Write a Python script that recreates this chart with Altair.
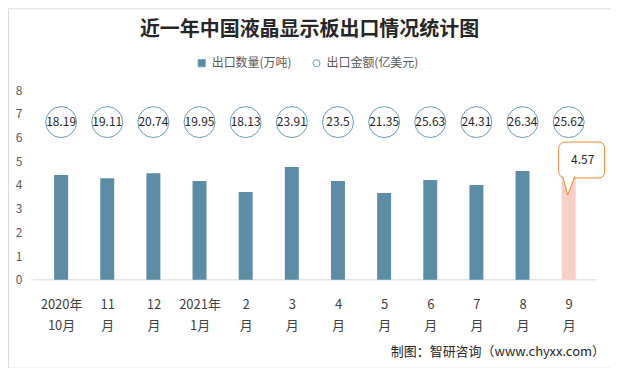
import altair as alt
import pandas as pd

# ---- data ----
label_top = ["2020年", "11", "12", "2021年", "2", "3", "4", "5", "6", "7", "8", "9"]
label_bottom = ["10月", "月", "月", "1月", "月", "月", "月", "月", "月", "月", "月", "月"]
quantity = [4.42, 4.29, 4.50, 4.17, 3.70, 4.76, 4.17, 3.66, 4.21, 4.00, 4.59, 4.57]
amount = [18.19, 19.11, 20.74, 19.95, 18.13, 23.91, 23.5, 21.35, 25.63, 24.31, 26.34, 25.62]
series_names = ["出口数量(万吨)", "出口金额(亿美元)"]
title_text = ["近一年中国液晶显示板出口情况统计图"]
footer_text = ["制图：智研咨询（www.chyxx.com）"]

n = len(quantity)
df = pd.DataFrame({
    "i": list(range(n)),
    "quantity": quantity,
    "amount": amount,
    "qs": [series_names[0]] * n,
    "as": [series_names[1]] * n,
})
last = df.iloc[[n - 1]]

FONT = "Noto Sans CJK SC"
BLUE = "#5b8ea6"
CIRCLE = "#6a9bb5"
PINK = "#f8d0c6"
ORANGE = "#ec8a2e"
W, H = 604, 360

xscale = alt.Scale(domain=[-49 / 47, (W - 49) / 47], nice=False, zero=False)
yscale = alt.Scale(domain=[-(H - 272) / 23.75, 272 / 23.75], nice=False, zero=False)

label_arr = "[" + ",".join(
    "['%s','%s']" % (a, b) for a, b in zip(label_top, label_bottom)
) + "]"

xaxis = alt.Axis(
    values=list(range(n)), labelExpr=label_arr + "[datum.value]",
    domain=False, ticks=False, grid=False, title=None, orient="bottom",
    offset=-78, labelPadding=9, labelFontSize=13, labelLineHeight=21,
    labelColor="#404040", labelFont=FONT, labelFlush=False, labelOverlap=False,
)
yaxis = alt.Axis(
    values=list(range(9)), domain=False, ticks=False, grid=False, title=None,
    orient="left", offset=-14, labelPadding=0, labelFontSize=12,
    labelColor="#595959", labelFont=FONT, labelFlush=False, labelOverlap=False,
)

fill_scale = alt.Scale(domain=series_names, range=[BLUE, "#ffffff"])
shape_scale = alt.Scale(domain=series_names, range=["square", "circle"])
leg = alt.Legend(
    title=None, orient="none", legendX=188, legendY=49, direction="horizontal",
    labelFontSize=12, labelColor="#595959", labelFont=FONT, symbolSize=50,
    symbolStrokeColor=CIRCLE, symbolStrokeWidth=1, columnPadding=18,
    labelOffset=4,
)

base = alt.Chart(df)

bars = base.mark_bar(size=14).encode(
    x=alt.X("i:Q", scale=xscale, axis=xaxis),
    y=alt.Y("quantity:Q", scale=yscale, axis=yaxis),
    fill=alt.condition(
        f"datum.i == {n - 1}", alt.value(PINK),
        alt.Fill("qs:N", scale=fill_scale, legend=leg),
    ),
)

baseline = alt.Chart(pd.DataFrame({"z": [0]})).mark_rule(
    color="#d9d9d9", strokeWidth=1
).encode(y=alt.Y("z:Q", scale=yscale), x=alt.value(25), x2=alt.value(590))

circles = base.mark_point(filled=True, size=961, stroke=CIRCLE, strokeWidth=1,
                          opacity=1).encode(
    x=alt.X("i:Q", scale=xscale),
    y=alt.value(114),
    fill=alt.Fill("as:N", scale=fill_scale, legend=leg),
    shape=alt.Shape("as:N", scale=shape_scale, legend=leg),
)
circle_text = base.mark_text(fontSize=12, font=FONT, color="#262626",
                             baseline="middle").encode(
    x=alt.X("i:Q", scale=xscale), y=alt.value(114), text=alt.Text("amount:N"),
)

callout_box = alt.Chart(last).mark_rect(
    fill="white", stroke=ORANGE, strokeWidth=1, cornerRadius=6,
    xOffset=-10, x2Offset=36, yOffset=-29.5, y2Offset=6.5,
).encode(
    x=alt.X("i:Q", scale=xscale), x2="i:Q",
    y=alt.Y("quantity:Q", scale=yscale), y2="quantity:Q",
)
callout_ptr = alt.Chart(last).mark_point(
    shape="M -6 5 L -1 23.5 L 6 5", size=4, filled=True, fill="white",
    stroke=ORANGE, strokeWidth=1, opacity=1,
).encode(x=alt.X("i:Q", scale=xscale), y=alt.Y("quantity:Q", scale=yscale))
callout_text = alt.Chart(last).mark_text(
    fontSize=12, font=FONT, color="#262626", dx=14, dy=-11.5, baseline="middle",
).encode(
    x=alt.X("i:Q", scale=xscale), y=alt.Y("quantity:Q", scale=yscale),
    text=alt.Text("quantity:N"),
)

title = alt.Chart(pd.DataFrame({"t": title_text})).mark_text(
    fontSize=20, font=FONT, fontWeight="bold", color="#262626", baseline="middle",
).encode(text="t:N", x=alt.value(W / 2), y=alt.value(22))

footer = alt.Chart(pd.DataFrame({"t": footer_text})).mark_text(
    fontSize=13, font=FONT, color="#262626", baseline="middle", align="right",
).encode(text="t:N", x=alt.value(598), y=alt.value(344))

chart = alt.layer(
    baseline, bars, circles, circle_text, callout_box, callout_ptr, callout_text,
    title, footer,
).properties(width=W, height=H, padding=0).configure_view(
    stroke="#a6a6a6", strokeWidth=1
).configure(background="white")

chart.save("out.html", embed_options={"renderer": "svg", "actions": False})
